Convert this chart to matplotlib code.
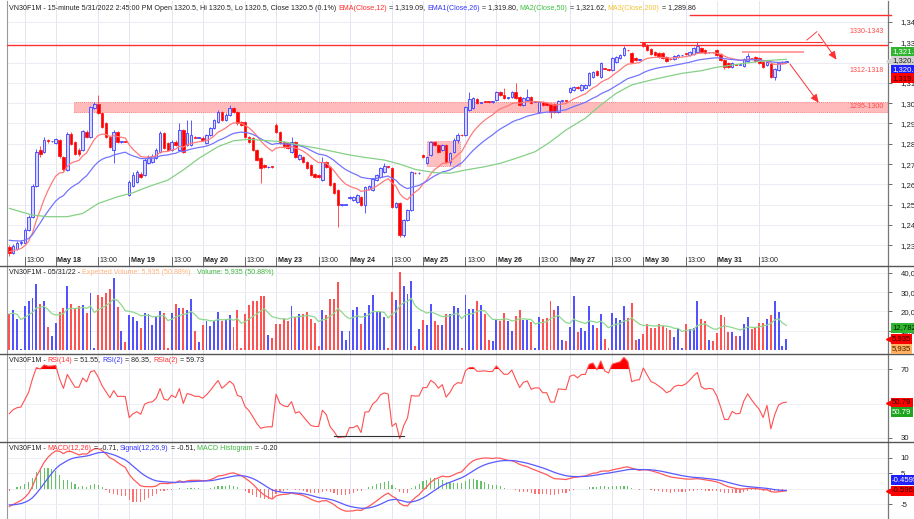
import numpy as np
import pandas as pd
import matplotlib
matplotlib.use("Agg")
import matplotlib.pyplot as plt
import matplotlib.transforms as mtransforms
from matplotlib.patches import Rectangle
from matplotlib.font_manager import FontProperties

W, H = 914, 519
FONT = "Liberation Sans"
plt.rcParams['font.family'] = [FONT, 'DejaVu Sans']

# ---------------- data (15-minute bars, May 17 afternoon .. May 31) ----------------
opens = [
    1229, 1226, 1228, 1231, 1231, 1237.5, 1244, 1259, 1277, 1276, 1281.8, 1281.2,
    1280.5, 1282, 1273.6, 1267, 1285, 1281, 1277, 1277, 1286, 1283.5, 1297.4, 1299.6, 1295, 1290, 1283.5, 1277, 1286, 1281, 1281.2,
    1254.8, 1259, 1261.3, 1265.1, 1264.6, 1270.4, 1271.2, 1272.8, 1276, 1285.5, 1280.2, 1277, 1281, 1277, 1286.8, 1279.4, 1279.4, 1283.3, 1283,
    1283.1, 1280.2, 1284.3, 1287.6, 1290.9, 1295.8, 1291.7, 1294.2, 1297.4, 1295.8, 1290.5, 1290.9, 1283.5, 1282.7, 1276.9, 1272.8, 1269.5, 1268.4, 1268.6,
    1289.2, 1286, 1281, 1280.5, 1276.1, 1281, 1272.5, 1273.6, 1271.2, 1269.5, 1265, 1264.6, 1262.1, 1271.2, 1268.4, 1260.5, 1257.2, 1249.8, 1250,
    1253.1, 1252.3, 1251.5, 1253.9, 1249.8, 1257.5, 1257.2, 1262.1, 1263.8, 1266.2, 1268.8, 1267.9, 1249, 1250.6, 1235, 1242.4, 1247.4, 1265.8, 1265.5,
    1274.4, 1270.4, 1274.5, 1281, 1279.4, 1276.9, 1279.4, 1271.2, 1276.1, 1282, 1284.3, 1284.3, 1296.6, 1297.5, 1301.9, 1300.3, 1300.9, 1300.6, 1300.5,
    1301.6, 1305.7, 1304, 1302.5, 1303.2, 1305.7, 1303.2, 1299.1, 1301.6, 1303.2, 1300.8, 1295.8, 1300.8, 1300.3, 1299.6, 1299.6, 1295.8, 1301, 1301.1,
    1305.7, 1306.5, 1308.1, 1306.5, 1307.3, 1309, 1313.1, 1315.9, 1313.1, 1317.2, 1316.6, 1316.4, 1320.5, 1322.1, 1323.7, 1326.1, 1324.6, 1322.1, 1321.4,
    1329.8, 1328.7, 1326.5, 1325.4, 1324.9, 1324.9, 1322.9, 1321.7, 1321.6, 1322.6, 1323.5, 1324.3, 1323.7, 1324.2, 1325.4, 1327, 1326.2, 1325, 1325.1,
    1326.2, 1324.2, 1321.3, 1320, 1318, 1319.1, 1319, 1318.3, 1321, 1322.2, 1322.6, 1322.1, 1320.5, 1318.8, 1319.6, 1312.7, 1316.4, 1319.6, 1320.5,
]
closes = [
    1226, 1229.5, 1231, 1231.5, 1237.5, 1244, 1259, 1276, 1275, 1282, 1281.2, 1281.4,
    1282.3, 1274, 1267.4, 1285, 1280, 1275, 1275, 1286.4, 1283.5, 1297.9, 1299.6, 1295, 1288.4, 1283.5, 1278.5, 1286, 1281, 1281.2, 1281,
    1261.3, 1264.6, 1266.2, 1263.8, 1272, 1273.6, 1274, 1276.9, 1285.5, 1277.7, 1276.9, 1281, 1279.4, 1287, 1276.1, 1285.1, 1284.3, 1283, 1283.1,
    1281.8, 1284.3, 1287.6, 1291.7, 1295.8, 1291.7, 1294.2, 1297.4, 1295.8, 1290, 1289.3, 1283.5, 1281, 1276.9, 1272, 1267.9, 1268.4, 1268.6, 1268.5,
    1286, 1280.2, 1278.5, 1278, 1281, 1273.6, 1274.4, 1271.2, 1267.9, 1264.6, 1263.8, 1263.8, 1271.2, 1268.4, 1259.7, 1255.6, 1249.8, 1250, 1250.1,
    1253.9, 1253.9, 1254.7, 1249.8, 1258.8, 1259, 1262.9, 1264.6, 1267.9, 1269, 1268.5, 1249, 1250.6, 1235, 1242.4, 1247.4, 1266, 1265.5, 1265.7,
    1273.6, 1273.6, 1281, 1279.4, 1276.1, 1279.4, 1271.2, 1275.3, 1281.8, 1284.5, 1284.1, 1298, 1301.9, 1302.4, 1300.3, 1300.5, 1300.8, 1300.5, 1300.6,
    1305.7, 1304, 1302.4, 1302.6, 1305.7, 1302.4, 1299.1, 1302.4, 1303.2, 1300, 1300.8, 1300.8, 1299.1, 1299.1, 1295.8, 1295.8, 1301.2, 1301.1, 1301,
    1307.3, 1308.1, 1307.3, 1309, 1309, 1314.7, 1315.5, 1313.9, 1319.6, 1317, 1316.4, 1322.1, 1322.9, 1323.7, 1327, 1326, 1320.5, 1321.3, 1321.5,
    1328.2, 1326.2, 1324.2, 1323.7, 1322.9, 1322.1, 1321, 1321.6, 1323.2, 1323.7, 1323.6, 1324.2, 1325.4, 1327, 1328.2, 1325.4, 1324.9, 1325.1, 1325,
    1323.7, 1321.3, 1318, 1318, 1319.6, 1319, 1319.1, 1321.6, 1323.3, 1322.1, 1321, 1320, 1318, 1320.5, 1313.1, 1316.7, 1319.6, 1320.3, 1320.5,
]
highs = [
    1230, 1230.5, 1232, 1232.5, 1238.5, 1245, 1260, 1277.5, 1279, 1283.5, 1282.5, 1281.6,
    1283, 1282.5, 1274, 1286, 1286, 1281.5, 1278, 1287, 1287, 1298.5, 1300.5, 1304, 1295.5, 1290.5, 1284, 1287, 1286.5, 1281.5, 1281.4,
    1262, 1266, 1267, 1266, 1273, 1274.5, 1275, 1278, 1286.2, 1286, 1281, 1282, 1282, 1290, 1287.5, 1291.7, 1291.7, 1283.6, 1283.3,
    1283.6, 1285, 1288.2, 1292.4, 1296.6, 1296.3, 1295, 1299, 1298, 1296.3, 1291, 1291.4, 1284, 1283.2, 1277.4, 1273.3, 1270, 1268.9, 1268.8,
    1290, 1286.5, 1281.5, 1281, 1283.5, 1281.5, 1275, 1274.1, 1271.7, 1270, 1265.5, 1265, 1273.6, 1271.7, 1268.9, 1261, 1257.7, 1250.3, 1250.3,
    1254.4, 1254.4, 1255.2, 1254.4, 1259.3, 1259.5, 1263.4, 1265.1, 1268.4, 1270.4, 1269.2, 1268.4, 1251.1, 1251.1, 1242.9, 1247.9, 1266.5, 1266, 1265.9,
    1275, 1274.1, 1281.5, 1281.5, 1279.9, 1279.9, 1279.9, 1275.8, 1282.7, 1285.1, 1284.8, 1298.5, 1305.7, 1302.9, 1302.4, 1300.8, 1301.2, 1300.9, 1300.8,
    1306.2, 1306.2, 1307.3, 1302.9, 1306.2, 1310, 1303.7, 1302.9, 1306.8, 1303.7, 1301.1, 1301.3, 1301.3, 1300.8, 1300.1, 1300.1, 1301.7, 1301.4, 1301.3,
    1307.8, 1308.6, 1308.6, 1309.5, 1309.5, 1315.2, 1316, 1316.4, 1320.1, 1317.5, 1316.9, 1322.6, 1323.4, 1324.2, 1328.2, 1326.4, 1325.1, 1322.6, 1321.7,
    1330.3, 1329.2, 1327, 1325.9, 1325.4, 1325.4, 1323.4, 1322, 1323.7, 1324.2, 1323.9, 1324.6, 1325.9, 1327.5, 1330.3, 1327.5, 1326.7, 1325.4, 1325.3,
    1326.7, 1324.7, 1321.8, 1320.5, 1320.1, 1319.4, 1319.4, 1322.1, 1324.6, 1322.5, 1323.1, 1322.6, 1321, 1321, 1320.1, 1317.2, 1320.1, 1320.8, 1320.5,
]
lows = [
    1224.5, 1225.5, 1227.5, 1230, 1230.5, 1237, 1243.5, 1258.5, 1273.5, 1275.5, 1280.5, 1281,
    1280, 1273, 1266.5, 1266.5, 1279.5, 1274.5, 1274, 1276.5, 1283, 1283, 1297, 1294.5, 1288, 1283, 1278, 1270.4, 1280.5, 1280.5, 1280.8,
    1254.3, 1258.5, 1260.8, 1263.3, 1264, 1270, 1270.5, 1272.3, 1275.5, 1277.2, 1276.4, 1276.5, 1279, 1276.5, 1275.5, 1279, 1279, 1282.7, 1282.8,
    1281.3, 1279.8, 1283.8, 1287.2, 1290.4, 1291.2, 1291.2, 1293.7, 1295.3, 1289.5, 1288.8, 1283, 1280.5, 1276.4, 1271.5, 1260.5, 1267.9, 1268.1, 1268.2,
    1285.5, 1279.7, 1278, 1277.5, 1275.6, 1273.1, 1272, 1270.7, 1267.4, 1264.1, 1263.3, 1263.3, 1261.6, 1267.9, 1259.2, 1255.1, 1239.2, 1249.5, 1249.8,
    1252.6, 1251.8, 1251, 1249.3, 1245.7, 1257, 1256.7, 1261.6, 1263.3, 1265.7, 1268.1, 1248.5, 1248.5, 1234, 1234, 1241.9, 1246.9, 1265.2, 1265.3,
    1273.1, 1269.9, 1274, 1278.9, 1275.6, 1276.4, 1270.7, 1269.6, 1275.6, 1280.2, 1283.8, 1283.8, 1296.1, 1297, 1299.8, 1300, 1300.5, 1300.2, 1300.3,
    1301.1, 1303.5, 1301.9, 1302.2, 1302.7, 1301.9, 1298.6, 1298.6, 1301.1, 1299.5, 1300.5, 1295.3, 1298.6, 1298.6, 1292.6, 1295.3, 1295.3, 1300.7, 1300.8,
    1305.2, 1306, 1306.8, 1306, 1306.8, 1308.5, 1312.6, 1313.4, 1312.6, 1316.7, 1316.1, 1315.9, 1320, 1321.6, 1323.2, 1325.7, 1320, 1320.8, 1321.2,
    1327.7, 1325.7, 1323.7, 1323.2, 1322.4, 1321.6, 1320.5, 1321.2, 1321.1, 1322.1, 1323.2, 1323.9, 1323.2, 1323.7, 1324.9, 1324.9, 1324.4, 1324.7, 1324.8,
    1323.2, 1320.8, 1317, 1317.5, 1317.5, 1318.7, 1318.7, 1317.8, 1320.5, 1321.8, 1320.5, 1319.5, 1317.5, 1318.3, 1312.6, 1311.4, 1315.9, 1319.1, 1320.5,
]
volume_k = [
    18.8, 20.6, 15.9, 0.6, 23.1, 25.4, 26.9, 34.4, 24.0, 25.2, 12.0, 7.1,
    14.0, 19.7, 21.8, 33.5, 24.0, 21.4, 23.1, 23.5, 19.3, 29.7, 0.8, 28.8, 27.5, 29.7, 31.8, 37.3, 22.3, 10.0, 4.1,
    18.3, 17.4, 14.9, 11.4, 19.2, 18.8, 12.8, 17.4, 20.0, 19.2, 0.8, 19.2, 24.0, 21.9, 21.9, 20.9, 26.6, 10.0, 4.1,
    13.1, 14.9, 12.4, 14.9, 19.7, 14.9, 15.9, 18.3, 12.0, 20.9, 0.8, 18.8, 23.5, 25.4, 25.7, 28.3, 27.8, 8.0, 6.2,
    13.6, 13.6, 15.9, 14.9, 23.1, 17.1, 18.8, 18.8, 19.7, 16.2, 14.2, 2.0, 20.6, 18.0, 26.6, 26.6, 35.2, 10.0, 5.0,
    9.7, 20.6, 22.3, 13.6, 19.3, 23.5, 28.7, 19.7, 19.7, 17.1, 0.8, 30.1, 26.1, 40.4, 33.2, 29.2, 35.6, 2.0, 11.0,
    15.4, 12.8, 23.7, 14.9, 13.1, 12.8, 18.8, 18.8, 23.1, 21.8, 0.8, 28.8, 21.1, 21.1, 25.7, 23.5, 18.8, 5.0, 4.7,
    15.4, 14.9, 19.3, 14.9, 9.7, 17.6, 20.9, 15.4, 15.4, 14.5, 0.8, 17.1, 15.9, 16.6, 25.7, 20.9, 22.8, 5.0, 4.7,
    11.9, 28.0, 9.3, 11.4, 9.7, 22.8, 13.1, 11.4, 18.8, 5.5, 0.8, 19.3, 16.6, 15.4, 23.1, 16.6, 24.4, 5.0, 5.5,
    8.5, 13.6, 11.4, 11.4, 13.6, 12.4, 11.4, 10.2, 6.7, 11.1, 0.8, 13.6, 11.1, 11.4, 25.2, 16.2, 14.9, 5.0, 4.5,
    9.0, 18.0, 17.1, 9.3, 9.3, 7.3, 7.3, 13.6, 17.4, 11.0, 11.4, 14.2, 14.2, 15.9, 18.0, 25.7, 19.7, 2.0, 5.935,
]
# MA(Close,50) at sample bars
ma50_idx = [0, 3, 6, 10, 15, 19, 23, 28, 32, 36, 41, 45, 49, 54, 58, 62, 67, 71, 75, 80,
            84, 88, 92, 97, 101, 105, 110, 114, 118, 123, 127, 131, 136, 140, 144, 149, 153, 157,
            161, 166, 170, 174, 179, 183, 187, 192, 196, 201]
ma50_val = [1248.2, 1246.5, 1244.9, 1244.1, 1244.1, 1245.7, 1250.6, 1253.9, 1255.9, 1258.9,
            1262.1, 1267.1, 1272.8, 1278.6, 1281.5, 1282.2, 1281.5, 1281.0, 1279.4, 1277.7,
            1276.1, 1274.5, 1273.3, 1272.0, 1270.0, 1267.4, 1265.8, 1265.5, 1267.1, 1268.7,
            1270.4, 1272.8, 1276.1, 1281.0, 1286.8, 1292.6, 1299.1, 1304.9, 1309.0, 1311.4,
            1313.1, 1314.7, 1316.0, 1317.7, 1318.8, 1320.1, 1321.0, 1321.6]
# indicator starting levels (values at the left edge of the chart)
ema12_start, ema26_start = 1227.0, 1233.0
signal_start = -5.0
rsi_start_gain, rsi_start_loss = 2.6, 3.3

# time axis labels
day_labels = ["May 18", "May 19", "May 20", "May 23", "May 24", "May 25", "May 26", "May 27", "May 30", "May 31"]
day_start_idx = [12, 31, 50, 69, 88, 107, 126, 145, 164, 183]
noon_idx = [4, 23, 42, 61, 80, 99, 118, 137, 156, 175, 194]

price_ticks = [1230, 1240, 1250, 1260, 1270, 1280, 1290, 1300, 1310, 1320, 1330, 1340]
vol_ticks = [10000, 20000, 30000, 40000]
rsi_ticks = [30, 70]
macd_ticks = [-5, 0, 5, 10]

# drawn zones / lines
zone_band = (1295.5, 1300.7, 16.7)           # low, high, start bar
zone_box = (108.0, 116.6, 1269.0, 1281.4)     # x0, x1, low, high
res_full = 1328.7
res_mid = (1330.1, 163.2, 210.3)
res_top = (1343.4, 176.1, 228)
res_pink = (1325.0, 189.8, 205.4)
arrow1_x = [206.3, 208.9, 214.4]
arrow1_y = [1331.1, 1335.2, 1320.3]
arrow2_x = [201.5, 209.8]
arrow2_y = [1320.4, 1299.1]
zone_labels = [("1330-1343", 1335.1), ("1312-1318", 1316.0), ("1295-1300", 1298.6)]
rsi_support_idx = [84, 102]
rsi_support_val = [31.2, 31.2]

# ---------------- computations ----------------
n = min(len(opens), len(closes), len(highs), len(lows), len(volume_k))
o = np.array(opens[:n], float)
c = np.array(closes[:n], float)
hi = np.array(highs[:n], float)
lo = np.array(lows[:n], float)
vol = np.array(volume_k[:n], float) * 1000
xi = np.arange(n)

ema12 = pd.Series(np.r_[ema12_start, c]).ewm(span=12, adjust=False).mean().to_numpy()[1:]
ema26 = pd.Series(np.r_[ema26_start, c]).ewm(span=26, adjust=False).mean().to_numpy()[1:]
macd = ema12 - ema26
signal = pd.Series(np.r_[signal_start, macd]).ewm(span=9, adjust=False).mean().to_numpy()[1:]
hist = macd - signal

d = np.diff(c)
gain = np.r_[rsi_start_gain, np.where(d > 0, d, 0.0)]
loss = np.r_[rsi_start_loss, np.where(d < 0, -d, 0.0)]
ag = pd.Series(gain).ewm(alpha=1 / 14, adjust=False).mean().to_numpy()
al = pd.Series(loss).ewm(alpha=1 / 14, adjust=False).mean().to_numpy()
rsi = 100 - 100 / (1 + ag / al)

vol_avg = pd.Series(vol).ewm(span=12, adjust=False).mean().to_numpy()

# ---------------- figure ----------------
fig = plt.figure(figsize=(W / 100, H / 100), dpi=100)
fig.patch.set_facecolor("white")
LPX, RPX = 7, 888


def add_ax(top, bottom):
    return fig.add_axes([LPX / W, 1 - bottom / H, (RPX - LPX) / W, (bottom - top) / H])


ax = add_ax(1, 265)
axv = add_ax(266, 354)
axr = add_ax(354, 442)
axm = add_ax(442, 519)

XL = (-0.6, 227.3)
grid_c = "#e4e4f2"
DARK = "#222222"
FS = 5.15      # header / label font size
AFS = 5.6      # right-axis font size

for a in (ax, axv, axr, axm):
    a.set_xlim(*XL)
    a.set_facecolor("white")
    a.set_xticks([])
    a.yaxis.tick_right()
    a.tick_params(axis="y", which="both", length=3, width=0.6, color="#555555", labelsize=AFS,
                  pad=6, labelcolor=DARK)
    for s in ("top", "bottom"):
        a.spines[s].set_visible(False)
    a.spines["left"].set_color("#9a9a9a")
    a.spines["left"].set_linewidth(0.8)
    a.spines["right"].set_color("#777777")
    a.spines["right"].set_linewidth(0.9)
    for k in day_start_idx + noon_idx:
        a.axvline(k, color=grid_c, lw=0.7, zorder=0)

# ---- main price pane ----
ax.set_ylim(1220.3, 1350.34)
ax.set_yticks(price_ticks)
ax.set_yticklabels([f"{t:,}" for t in price_ticks])
for t in price_ticks:
    ax.axhline(t, color="#ececf4", lw=0.7, zorder=0)

blo, bhi, bstart = zone_band
ax.add_patch(Rectangle((bstart, blo), XL[1] - bstart, bhi - blo, facecolor="#ffb4b4",
                       edgecolor="#ff7070", lw=0.7, ls=(0, (1, 1)), alpha=0.9, zorder=1))
bx0, bx1, bl, bh = zone_box
ax.add_patch(Rectangle((bx0, bl), bx1 - bx0, bh - bl, facecolor="#ffb4b4",
                       edgecolor="#ff8080", lw=0.7, ls=(0, (1, 1)), alpha=0.85, zorder=1))

up = c >= o
edge_col = np.where(up, "#3c3cff", "#ff1a1a")
face_col = np.where(up, "#d4d4ff", "#ff0000")
wick_col = np.where(up, "#5a5aff", "#ff4d4d")
ax.vlines(xi, lo, hi, colors=wick_col, lw=0.7, zorder=3)
body = np.maximum(np.abs(c - o), 0.35)
ax.bar(xi, body, bottom=np.minimum(o, c), width=0.66, color=face_col, edgecolor=edge_col,
       linewidth=0.6, zorder=4)

ax.plot(xi, ema12, color="#ff7a7a", lw=0.9, zorder=5)
ax.plot(xi, ema26, color="#7474ff", lw=0.9, zorder=5)
ax.plot(ma50_idx, ma50_val, color="#86d086", lw=0.9, zorder=5)

ax.axhline(res_full, color="#ff3030", lw=1.0, zorder=6)
ax.plot([res_mid[1], res_mid[2]], [res_mid[0]] * 2, color="#ff3030", lw=0.8, zorder=6)
ax.plot([res_top[1], res_top[2]], [res_top[0]] * 2, color="#ff3030", lw=1.0, zorder=6, clip_on=False)
ax.plot([res_pink[1], res_pink[2]], [res_pink[0]] * 2, color="#ff9d9d", lw=1.4, zorder=6)
ax.plot(arrow1_x[:2], arrow1_y[:2], color="#ff4040", lw=0.7, zorder=6)
ax.annotate("", xy=(arrow1_x[2], arrow1_y[2]), xytext=(arrow1_x[1], arrow1_y[1]),
            arrowprops=dict(arrowstyle="-|>,head_length=0.5,head_width=0.22", color="#ff3030", lw=0.7))
ax.annotate("", xy=(arrow2_x[1], arrow2_y[1]), xytext=(arrow2_x[0], arrow2_y[0]),
            arrowprops=dict(arrowstyle="-|>,head_length=0.5,head_width=0.22", color="#ff3030", lw=0.7))
for txt, yv in zone_labels:
    ax.text(226.3, yv, txt, color="#ff4a4a", fontsize=FS, ha="right", va="center", zorder=7)

trans_x = mtransforms.blended_transform_factory(ax.transData, ax.transAxes)
for k, lab in zip(day_start_idx, day_labels):
    ax.plot([k, k], [0.0, 0.03], transform=trans_x, color="#555555", lw=0.6, clip_on=False)
    ax.text(k + 0.4, 0.016, lab, transform=trans_x, fontsize=FS, fontweight="bold", color=DARK,
            ha="left", va="center")
for k in noon_idx:
    ax.plot([k, k], [0.0, 0.03], transform=trans_x, color="#555555", lw=0.6, clip_on=False)
    ax.text(k + 0.4, 0.016, "13:00", transform=trans_x, fontsize=FS, color=DARK, ha="left", va="center")

# ---- volume pane ----
axv.set_ylim(-2078, 43636)
axv.set_yticks(vol_ticks)
axv.set_yticklabels([f"{t:,}" for t in vol_ticks])
for t in vol_ticks:
    axv.axhline(t, color="#eeeef5", lw=0.7, zorder=0)
vcol = np.where(up, "#5252ff", "#ff5252")
axv.bar(xi, vol, width=0.5, color=vcol, zorder=3)
axv.plot(xi, vol_avg, color="#8fd88f", lw=0.9, zorder=4)

# ---- RSI pane ----
axr.set_ylim(27.68, 78.7)
axr.set_yticks(rsi_ticks)
axr.set_yticklabels([str(t) for t in rsi_ticks])
for t in (30, 50, 70):
    axr.axhline(t, color="#eeeef5", lw=0.7, zorder=0)
axr.fill_between(xi, rsi, 70, where=rsi > 70, interpolate=True, color="#ff0000", lw=0, zorder=2)
axr.plot(xi, rsi, color="#ff5050", lw=0.8, zorder=3)
axr.plot(rsi_support_idx, rsi_support_val, color="#333333", lw=0.8, zorder=4)

# ---- MACD pane ----
axm.set_ylim(-9.68, 15.16)
axm.set_yticks(macd_ticks)
axm.set_yticklabels([str(t) for t in macd_ticks])
for t in macd_ticks:
    axm.axhline(t, color="#eeeef5", lw=0.7, zorder=0)
hcol = np.where(hist >= 0, "#66c266", "#ff7070")
axm.bar(xi, hist, width=0.3, color=hcol, zorder=2)
axm.plot(xi, macd, color="#ff5a5a", lw=0.9, zorder=3)
axm.plot(xi, signal, color="#5a5aff", lw=0.9, zorder=3)

for ypx in (265.5, 354, 442):
    fig.add_artist(plt.Line2D([0, 1], [1 - ypx / H] * 2, color="#555555", lw=1.0))

# ---------------- texts ----------------
renderer = fig.canvas.get_renderer()


def text_w(s, size):
    fp = FontProperties(family=FONT, size=size)
    w1, _, _ = renderer.get_text_width_height_descent(s + "|", fp, ismath=False)
    w2, _, _ = renderer.get_text_width_height_descent("|", fp, ismath=False)
    return w1 - w2


def rich(y_px, parts, x_px=9, size=FS):
    x = x_px
    for s, col in parts:
        fig.text(x / W, 1 - y_px / H, s, color=col, fontsize=size, ha="left", va="center", zorder=8)
        x += text_w(s, size)


rich(8, [("VN30F1M - 15-minute 5/31/2022 2:45:00 PM Open 1320.5, Hi 1320.5, Lo 1320.5, Close 1320.5 (0.1%) ", DARK),
         ("EMA(Close,12)", "#ff2a2a"), (" = 1,319.09, ", DARK),
         ("EMA1(Close,26)", "#3434ff"), (" = 1,319.80, ", DARK),
         ("MA2(Close,50)", "#3cbf3c"), (" = 1,321.62, ", DARK),
         ("MA3(Close,200)", "#f2c232"), (" = 1,289.86", DARK)])
rich(272, [("VN30F1M - 05/31/22 - ", DARK), ("Expected Volume: 5,935 (50.88%)", "#ffb27a"),
           ("   Volume: 5,935 (50.88%)", "#3cb43c")])
rich(360, [("VN30F1M - ", DARK), ("RSI(14)", "#ff3030"), (" = 51.55, ", DARK),
           ("RSI(2)", "#3434ff"), (" = 86.35, ", DARK), ("RSIa(2)", "#ff3030"), (" = 59.73", DARK)])
rich(448, [("VN30F1M - ", DARK), ("MACD(12,26)", "#ff3030"), (" = -0.71, ", DARK),
           ("Signal(12,26,9)", "#3434ff"), (" = -0.51, ", DARK),
           ("MACD Histogram", "#3cb43c"), (" = -0.20", DARK)])


def vbox(y_px, txt, fc, tc="white", arrow=False):
    fig.text(892 / W, 1 - y_px / H, txt, color=tc, fontsize=AFS, ha="left", va="center",
             bbox=dict(boxstyle="square,pad=0.16", fc=fc, ec="none"), zorder=10)
    if arrow:
        fig.add_artist(plt.Line2D([888.5 / W], [1 - y_px / H], marker="<", markersize=4,
                                  color=fc, lw=0, zorder=10))


vbox(51.5, f"{ma50_val[-1]:,.2f}", "#2fb52f")
vbox(60.5, f"{c[-1]:,.1f}", "#d2d2d2", tc=DARK, arrow=True)
vbox(69.5, f"{ema26[-1]:,.2f}", "#2020ff")
vbox(78.2, f"{ema12[-1]:,.2f}", "#ff0000", tc="#300000")
vbox(328, f"{vol_avg[-1]:,.0f}", "#2fb52f", tc="#002000")
vbox(339, f"{vol[-1]:,.0f}", "#ff0000", tc="#300000", arrow=True)
vbox(349, f"{vol[-1]:,.0f}", "#ffb060", tc="#402000")
vbox(402.7, f"{rsi[-1]:.2f}", "#ff0000", tc="#300000", arrow=True)
vbox(412, f"{rsi[-1]:.2f}", "#1fa51f")
vbox(480, f"{signal[-1]:.4f}", "#2020ff")
vbox(491, f"{macd[-1]:.4f}", "#ff0000", tc="#300000", arrow=True)

fig.savefig("out.png", dpi=100, facecolor="white")
